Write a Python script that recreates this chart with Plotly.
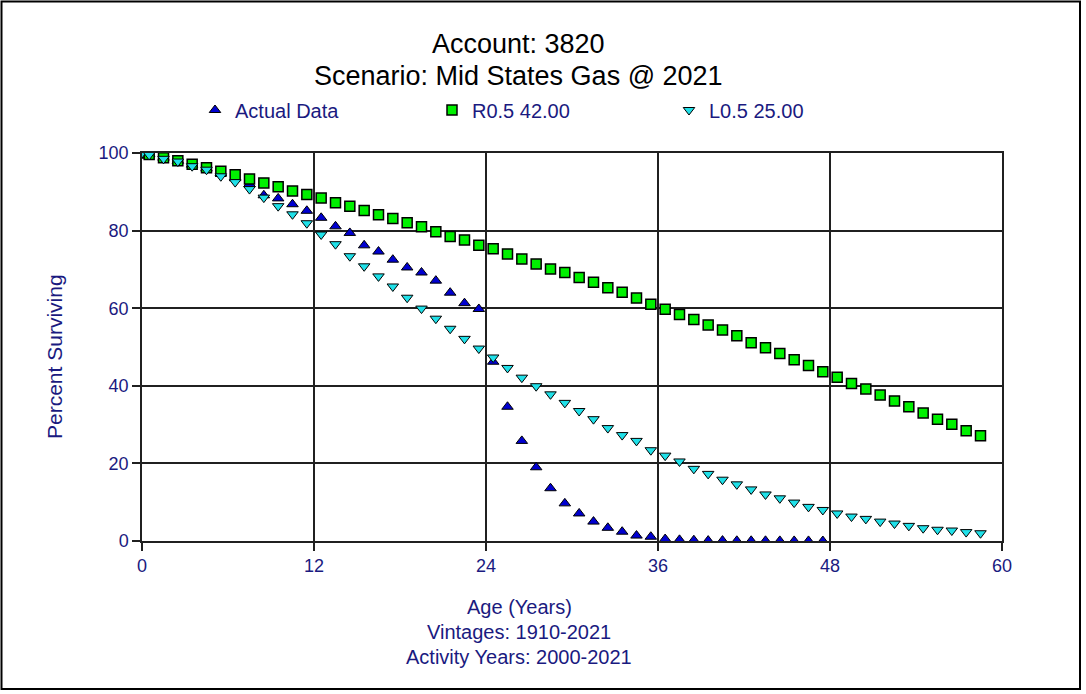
import plotly.graph_objects as go

# ---------------- data ----------------
actual_age = [0, 0.5] + [i + 0.5 for i in range(1, 48)]
actual_pct = [100, 99.7, 98.8, 98.0, 97.0, 96.0, 94.8, 93.5, 92.0, 89.1, 88.3, 86.8, 85.1,
              83.3, 81.1, 79.4, 76.2, 74.6, 72.5, 70.5, 69.2, 67.1, 64.0, 61.3, 59.8,
              46.2, 34.6, 25.8, 19.0, 13.6, 9.7, 7.1, 5.0, 3.4, 2.4, 1.4, 1.1, 0.5,
              0.3, 0.2, 0.1, 0.1, 0.05, 0.05, 0.05, 0.03, 0.02, 0.02, 0.0]

curve_age = [0, 0.5] + [i + 0.5 for i in range(1, 59)]
r05_pct = [100, 99.6, 98.8, 98.0, 97.1, 96.2, 95.3, 94.4, 93.3, 92.3, 91.3, 90.2, 89.3,
           88.4, 87.2, 86.3, 85.2, 84.1, 83.1, 82.0, 81.0, 79.7, 78.5, 77.6, 76.2, 75.3,
           74.0, 72.7, 71.4, 70.1, 69.2, 67.9, 66.7, 65.3, 64.1, 62.6, 61.0, 59.7, 58.4,
           57.1, 55.7, 54.4, 52.9, 51.1, 49.8, 48.3, 46.7, 45.2, 43.6, 42.2, 40.6, 39.2,
           37.6, 36.1, 34.6, 33.0, 31.4, 30.1, 28.4, 27.1]
l05_pct = [100, 99.5, 98.5, 97.8, 96.6, 95.7, 94.0, 92.5, 90.7, 88.5, 86.3, 84.2, 81.9,
           79.0, 76.5, 73.4, 70.8, 68.2, 65.6, 62.7, 59.9, 57.3, 54.7, 52.1, 49.6, 47.3,
           44.6, 42.1, 39.9, 37.8, 35.6, 33.5, 31.4, 29.1, 27.3, 25.8, 23.4, 22.0, 20.5,
           18.6, 17.3, 15.8, 14.6, 13.3, 12.0, 11.0, 9.9, 8.8, 8.0, 7.1, 6.3, 5.7, 5.0,
           4.5, 3.9, 3.3, 2.9, 2.7, 2.3, 2.0]

x_ticks = [0, 12, 24, 36, 48, 60]
y_ticks = [0, 20, 40, 60, 80, 100]

title_lines = ["Account: 3820", "Scenario: Mid States Gas @ 2021"]
x_title_lines = ["Age (Years)", "Vintages: 1910-2021", "Activity Years: 2000-2021"]
y_title = "Percent Surviving"

# ---------------- figure ----------------
W, H = 1086, 694
L, R, T, B = 142, 84, 153, 153
PW, PH = W - L - R, H - T - B

def px_x(p):
    return (p - L) / PW

def px_y(p):
    return (H - B - p) / PH

FONT = "Liberation Sans, Arial, sans-serif"
NAVY = "#1a1a80"

fig = go.Figure()
fig.add_trace(go.Scatter(
    x=actual_age, y=actual_pct, mode="markers", name="Actual Data",
    marker=dict(symbol="triangle-up", size=10, color="#0000d0",
                line=dict(color="black", width=1))))
fig.add_trace(go.Scatter(
    x=curve_age, y=r05_pct, mode="markers", name="R0.5 42.00",
    marker=dict(symbol="square", size=10, color="#00f000",
                line=dict(color="black", width=1.5))))
fig.add_trace(go.Scatter(
    x=curve_age, y=l05_pct, mode="markers", name="L0.5 25.00",
    marker=dict(symbol="triangle-down", size=10, color="#20e0e8",
                line=dict(color="black", width=1))))

axis_common = dict(showgrid=True, gridcolor="#202020", gridwidth=1.5,
                   showline=True, linecolor="#202020", linewidth=1.5, mirror=True,
                   ticks="outside", ticklen=8, tickcolor="#202020", tickwidth=1.5,
                   zeroline=False, tickfont=dict(family=FONT, size=18, color=NAVY))

fig.update_xaxes(range=[0, 60], tickvals=x_ticks, **axis_common)
fig.update_yaxes(range=[0, 100], tickvals=y_ticks, **axis_common)

annotations = []
for i, t in enumerate(title_lines):
    annotations.append(dict(text=t, x=px_x(518), y=px_y(44 + 32 * i), xref="paper", yref="paper",
                            showarrow=False, xanchor="center", yanchor="middle",
                            font=dict(family=FONT, size=27, color="black")))
for i, t in enumerate(x_title_lines):
    annotations.append(dict(text=t, x=px_x(519), y=px_y(607 + 25 * i), xref="paper", yref="paper",
                            showarrow=False, xanchor="center", yanchor="middle",
                            font=dict(family=FONT, size=20, color=NAVY)))
annotations.append(dict(text=y_title, x=px_x(54), y=px_y(357), xref="paper", yref="paper",
                        showarrow=False, textangle=-90, xanchor="center", yanchor="middle",
                        font=dict(family=FONT, size=21, color=NAVY)))

fig.update_layout(
    width=W, height=H, margin=dict(l=L, r=R, t=T, b=B, autoexpand=False),
    paper_bgcolor="white", plot_bgcolor="white",
    showlegend=True,
    legend=dict(orientation="h", x=px_x(195), y=px_y(110), xanchor="left", yanchor="middle",
                entrywidth=192, entrywidthmode="pixels", bgcolor="rgba(0,0,0,0)",
                font=dict(family=FONT, size=20, color=NAVY), itemclick=False),
    annotations=annotations,
    shapes=[dict(type="rect", xref="paper", yref="paper",
                 x0=px_x(1.5), x1=px_x(1080), y0=px_y(689), y1=px_y(1.5),
                 line=dict(color="black", width=2), layer="below")],
)

fig.write_html("out.html")
